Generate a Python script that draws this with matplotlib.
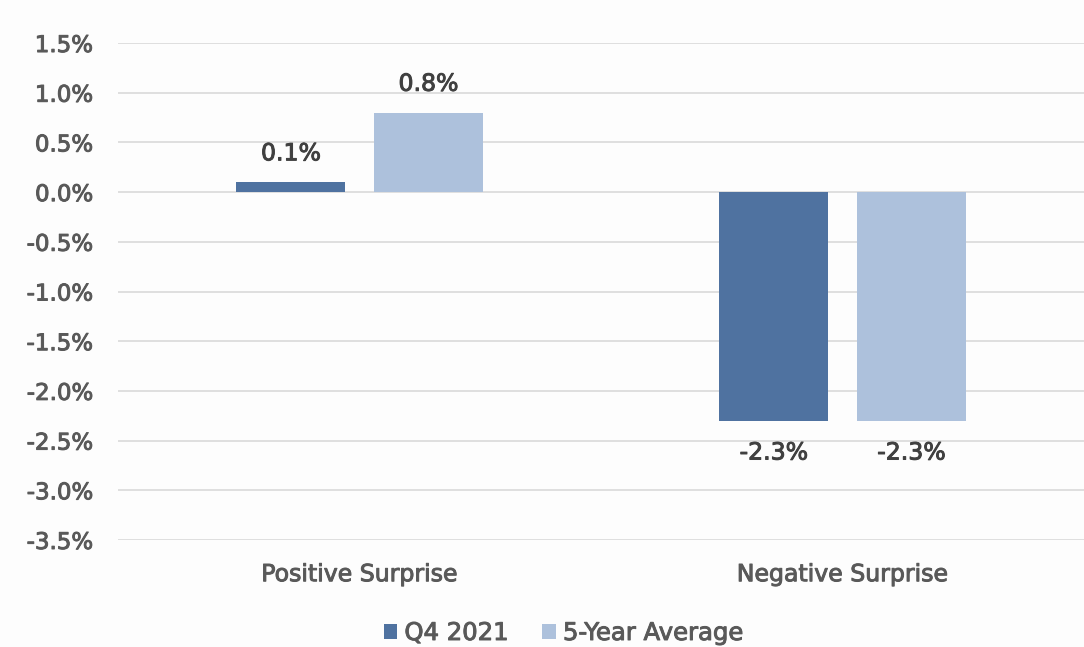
import matplotlib
matplotlib.use("Agg")
import matplotlib.pyplot as plt
import matplotlib.patheffects as pe
import numpy as np
from matplotlib.ticker import FuncFormatter

categories = ["Positive Surprise", "Negative Surprise"]
series_names = ["Q4 2021", "5-Year Average"]
q4_2021 = [0.1, -2.3]
five_year = [0.8, -2.3]
colors = ["#4F72A0", "#ADC1DC"]

plt.rcParams['font.family'] = ['DejaVu Sans']
txt = "#595959"
dark = "#404040"

def thick(c):
    return [pe.withStroke(linewidth=0.7, foreground=c)]

fig = plt.figure(figsize=(10.84, 6.47), dpi=100, facecolor="#FDFDFD")
ax = fig.add_axes([0.109, 0.1654, 0.891, 0.7681])
ax.set_facecolor("#FDFDFD")

x = np.arange(len(categories))
w = 0.225
off = 0.1425
for i, (vals, name) in enumerate(zip([q4_2021, five_year], series_names)):
    pos = x + (-off if i == 0 else off)
    ax.bar(pos, vals, width=w, color=colors[i], label=name, zorder=3)
    for xp, v in zip(pos, vals):
        yv = v + 0.29 if v >= 0 else v - 0.32
        ax.text(xp, yv, f"{v:.1f}%", ha="center", va="center",
                fontsize=17, color=dark, path_effects=thick(dark))

ax.set_xlim(-0.5, 1.5)
ax.set_ylim(-3.5, 1.5)
ax.set_yticks(np.arange(-3.5, 1.51, 0.5))
ax.yaxis.set_major_formatter(FuncFormatter(lambda v, p: f"{v:.1f}%"))
ax.set_xticks(x)
ax.set_xticklabels(categories)
ax.grid(axis="y", color="#D9D9D9", linewidth=1.2, zorder=0)
for s in ax.spines.values():
    s.set_visible(False)
ax.tick_params(axis="y", length=0, labelsize=16.5, labelcolor=txt, pad=18)
ax.tick_params(axis="x", length=0, labelsize=17, labelcolor=txt, pad=16)
for lab in ax.get_xticklabels() + ax.get_yticklabels():
    lab.set_path_effects(thick(txt))

leg = fig.legend(loc="center", bbox_to_anchor=(0.52, 1 - 633 / 647), ncol=2, frameon=False,
                 fontsize=17.5, handlelength=0.55, handleheight=0.55, handletextpad=0.3,
                 columnspacing=1.4)
for t in leg.get_texts():
    t.set_color(txt)
    t.set_path_effects(thick(txt))

fig.savefig("out.png", dpi=100, facecolor=fig.get_facecolor())
